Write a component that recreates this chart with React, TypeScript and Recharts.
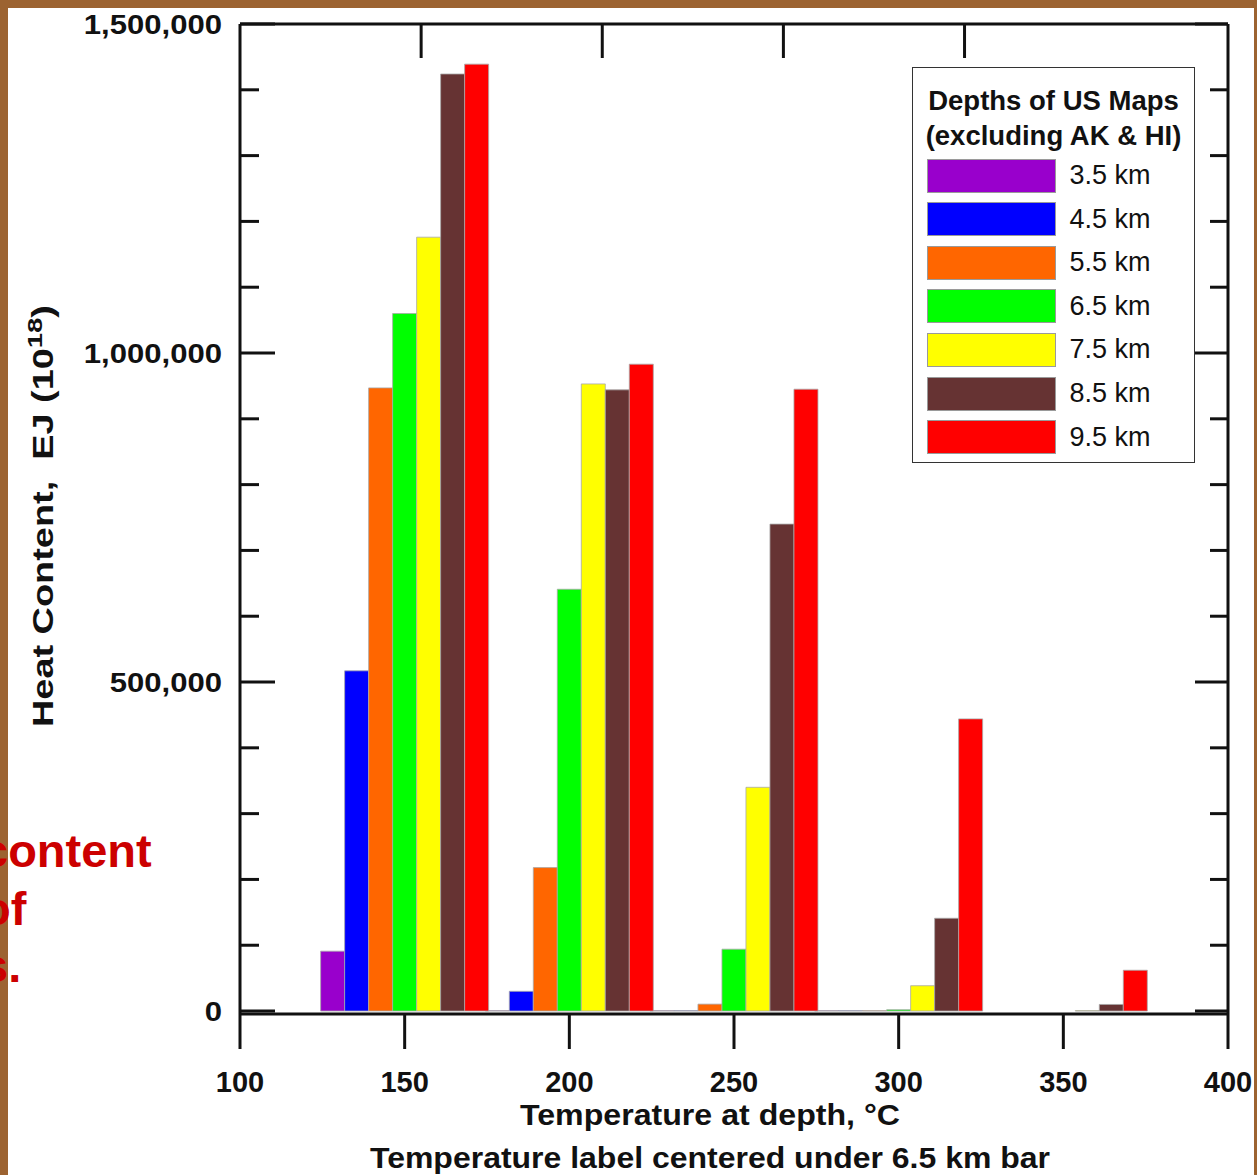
import React from "react";
import { Bar, ComposedChart, Label, Legend, XAxis, YAxis } from "recharts";

// Slide look: brown frame, black axes, Arial-like bold labels.
const BROWN = "#9c6331";
const INK = "#111111";
const BAR_EDGE = "#a8a8a8";
const FONT = "'Liberation Sans', Arial, Helvetica, sans-serif";

// Plot frame in page pixels
const LEFT = 240;
const RIGHT = 1228;
const TOP = 24;
const BOTTOM = 1014;

// Temperature bins, °C (label centred under the 6.5 km bar)
const temperatures = [150, 200, 250, 300, 350];

// Heat content, EJ, per map depth
const depth35 = [91000, 600, 600, 600, null];
const depth45 = [517000, 30000, 600, 600, null];
const depth55 = [947000, 218000, 10500, 600, null];
const depth65 = [1060000, 641000, 94000, 2000, null];
const depth75 = [1176000, 953000, 340000, 38500, 600];
const depth85 = [1424000, 944000, 740000, 141000, 10000];
const depth95 = [1439000, 983000, 945000, 444000, 62000];

const depths = [
  { key: "d35", label: "3.5 km", color: "#9900cc", values: depth35 },
  { key: "d45", label: "4.5 km", color: "#0000ff", values: depth45 },
  { key: "d55", label: "5.5 km", color: "#ff6600", values: depth55 },
  { key: "d65", label: "6.5 km", color: "#00ff00", values: depth65 },
  { key: "d75", label: "7.5 km", color: "#ffff00", values: depth75 },
  { key: "d85", label: "8.5 km", color: "#663333", values: depth85 },
  { key: "d95", label: "9.5 km", color: "#ff0000", values: depth95 },
];

const xTicks = [100, 150, 200, 250, 300, 350, 400];
const topTicks = [155, 210, 265, 320];
const yTicks = [
  0, 100000, 200000, 300000, 400000, 500000, 600000, 700000, 800000, 900000,
  1000000, 1100000, 1200000, 1300000, 1400000, 1500000,
];
const yLabelled = [0, 500000, 1000000, 1500000];

const data = temperatures.map((temp, i) => {
  const row: Record<string, number | null> = { temp };
  depths.forEach((d) => {
    row[d.key] = d.values[i];
  });
  return row;
});

// the slide's numerals are a little wider than Liberation Sans Bold
function wideLength(s: string, size: number) {
  let em = 0;
  for (const ch of s) em += ch === "," ? 0.278 : 0.556;
  return em * size * 1.11;
}

function BottomTick({ x, payload }: any) {
  return (
    <g>
      <line x1={x} x2={x} y1={BOTTOM} y2={BOTTOM + 35} stroke={INK} strokeWidth={3} />
      <text x={x} y={1092} textAnchor="middle" fontFamily={FONT} fontWeight={700} fontSize={29} fill={INK}>
        {payload.value}
      </text>
    </g>
  );
}

function TopTick({ x }: any) {
  return <line x1={x} x2={x} y1={TOP} y2={TOP + 34} stroke={INK} strokeWidth={3} />;
}

function LeftTick({ y, payload }: any) {
  const major = yLabelled.includes(payload.value);
  const text = Number(payload.value).toLocaleString("en-US");
  return (
    <g>
      <line x1={LEFT} x2={LEFT + (major ? 35 : 19)} y1={y} y2={y} stroke={INK} strokeWidth={3} />
      {major && (
        <text
          x={222}
          y={y + 10}
          textAnchor="end"
          fontFamily={FONT}
          fontWeight={700}
          fontSize={28}
          fill={INK}
          textLength={wideLength(text, 28)}
          lengthAdjust="spacingAndGlyphs"
        >
          {text}
        </text>
      )}
    </g>
  );
}

function RightTick({ y, payload }: any) {
  const major = yLabelled.includes(payload.value);
  return <line x1={RIGHT} x2={RIGHT - (major ? 33 : 18)} y1={y} y2={y} stroke={INK} strokeWidth={3} />;
}

function LegendBox({ payload }: any) {
  return (
    <div
      style={{
        position: "relative",
        width: 283,
        height: 396,
        boxSizing: "border-box",
        border: "1.5px solid #333",
        background: "#fff",
        fontFamily: FONT,
        color: INK,
      }}
    >
      <div
        style={{
          position: "absolute",
          top: 15,
          left: 0,
          right: 0,
          textAlign: "center",
          fontWeight: 700,
          fontSize: 27.5,
          lineHeight: "35px",
          whiteSpace: "nowrap",
        }}
      >
        Depths of US Maps
        <br />
        (excluding AK &amp; HI)
      </div>
      {(payload || []).map((entry: any, i: number) => (
        <div
          key={entry.value}
          style={{
            position: "absolute",
            left: 13.5,
            top: 90.5 + i * 43.6,
            height: 34,
            display: "flex",
            alignItems: "center",
          }}
        >
          <span
            style={{
              display: "block",
              width: 129,
              height: 34,
              background: entry.color,
              boxSizing: "border-box",
              border: "1px solid #9a9a9a",
            }}
          />
          <span style={{ marginLeft: 14, fontSize: 27, whiteSpace: "nowrap" }}>{entry.value}</span>
        </div>
      ))}
    </div>
  );
}

export default function App() {
  return (
    <div
      style={{
        position: "absolute",
        left: 0,
        top: 0,
        width: 1257,
        height: 1175,
        background: "#fff",
        overflow: "hidden",
      }}
    >
      <ComposedChart
        width={1257}
        height={1175}
        data={data}
        margin={{ top: TOP - 1, right: 1257 - RIGHT - 1, bottom: 1175 - BOTTOM - 1, left: LEFT - 1 }}
        barCategoryGap={-1.7}
        barGap={0}
      >
        <XAxis
          xAxisId="temp"
          dataKey="temp"
          type="number"
          domain={[100, 400]}
          allowDataOverflow
          ticks={xTicks}
          interval={0}
          height={1}
          axisLine={{ stroke: INK, strokeWidth: 3 }}
          tickLine={false}
          tick={<BottomTick />}
        >
          <Label
            content={() => (
              <g fontFamily={FONT} fontWeight={700} fontSize={29} fill={INK}>
                <text x={710} y={1125} textAnchor="middle" textLength={380} lengthAdjust="spacingAndGlyphs">
                  Temperature at depth, °C
                </text>
                <text x={710} y={1168} textAnchor="middle" textLength={680} lengthAdjust="spacingAndGlyphs">
                  Temperature label centered under 6.5 km bar
                </text>
              </g>
            )}
          />
        </XAxis>
        <XAxis
          xAxisId="top"
          orientation="top"
          dataKey="temp"
          type="number"
          domain={[100, 400]}
          allowDataOverflow
          ticks={topTicks}
          interval={0}
          height={1}
          axisLine={{ stroke: INK, strokeWidth: 3 }}
          tickLine={false}
          tick={<TopTick />}
        />
        <YAxis
          yAxisId="heat"
          type="number"
          domain={[-4500, 1500000]}
          allowDataOverflow
          ticks={yTicks}
          interval={0}
          width={1}
          axisLine={{ stroke: INK, strokeWidth: 3 }}
          tickLine={false}
          tick={<LeftTick />}
        >
          <Label
            content={() => (
              <text
                transform="translate(53, 516) rotate(-90)"
                textAnchor="middle"
                fontFamily={FONT}
                fontWeight={700}
                fontSize={29}
                fill={INK}
                textLength={422}
                lengthAdjust="spacingAndGlyphs"
                style={{ whiteSpace: "pre" }}
              >
                {"Heat Content,  EJ (10"}
                <tspan fontSize={21} dy={-11}>
                  18
                </tspan>
                <tspan dy={11}>)</tspan>
              </text>
            )}
          />
        </YAxis>
        <YAxis
          yAxisId="frame"
          orientation="right"
          type="number"
          domain={[-4500, 1500000]}
          allowDataOverflow
          ticks={yTicks}
          interval={0}
          width={1}
          axisLine={{ stroke: INK, strokeWidth: 3 }}
          tickLine={false}
          tick={<RightTick />}
        />
        {depths.map((d) => (
          <Bar
            key={d.key}
            xAxisId="temp"
            yAxisId="heat"
            dataKey={d.key}
            name={d.label}
            fill={d.color}
            stroke={BAR_EDGE}
            strokeWidth={0.8}
            isAnimationActive={false}
          />
        ))}
        <Legend
          layout="vertical"
          align="center"
          verticalAlign="middle"
          width={283}
          wrapperStyle={{ left: 912, top: 67, width: 283, height: 396 }}
          content={<LegendBox />}
        />
      </ComposedChart>

      {/* slide frame */}
      <div
        style={{
          position: "absolute",
          inset: 0,
          boxSizing: "border-box",
          borderTop: `8px solid ${BROWN}`,
          borderLeft: `8px solid ${BROWN}`,
          borderRight: `3px solid ${BROWN}`,
          pointerEvents: "none",
        }}
      />
      {/* clipped slide text on the left */}
      <div
        style={{
          position: "absolute",
          left: -18,
          top: 822,
          fontFamily: FONT,
          fontWeight: 700,
          fontSize: 47,
          lineHeight: "57.5px",
          color: "#cc0000",
          whiteSpace: "pre",
        }}
      >
        {"content\nof\ns."}
      </div>
    </div>
  );
}
